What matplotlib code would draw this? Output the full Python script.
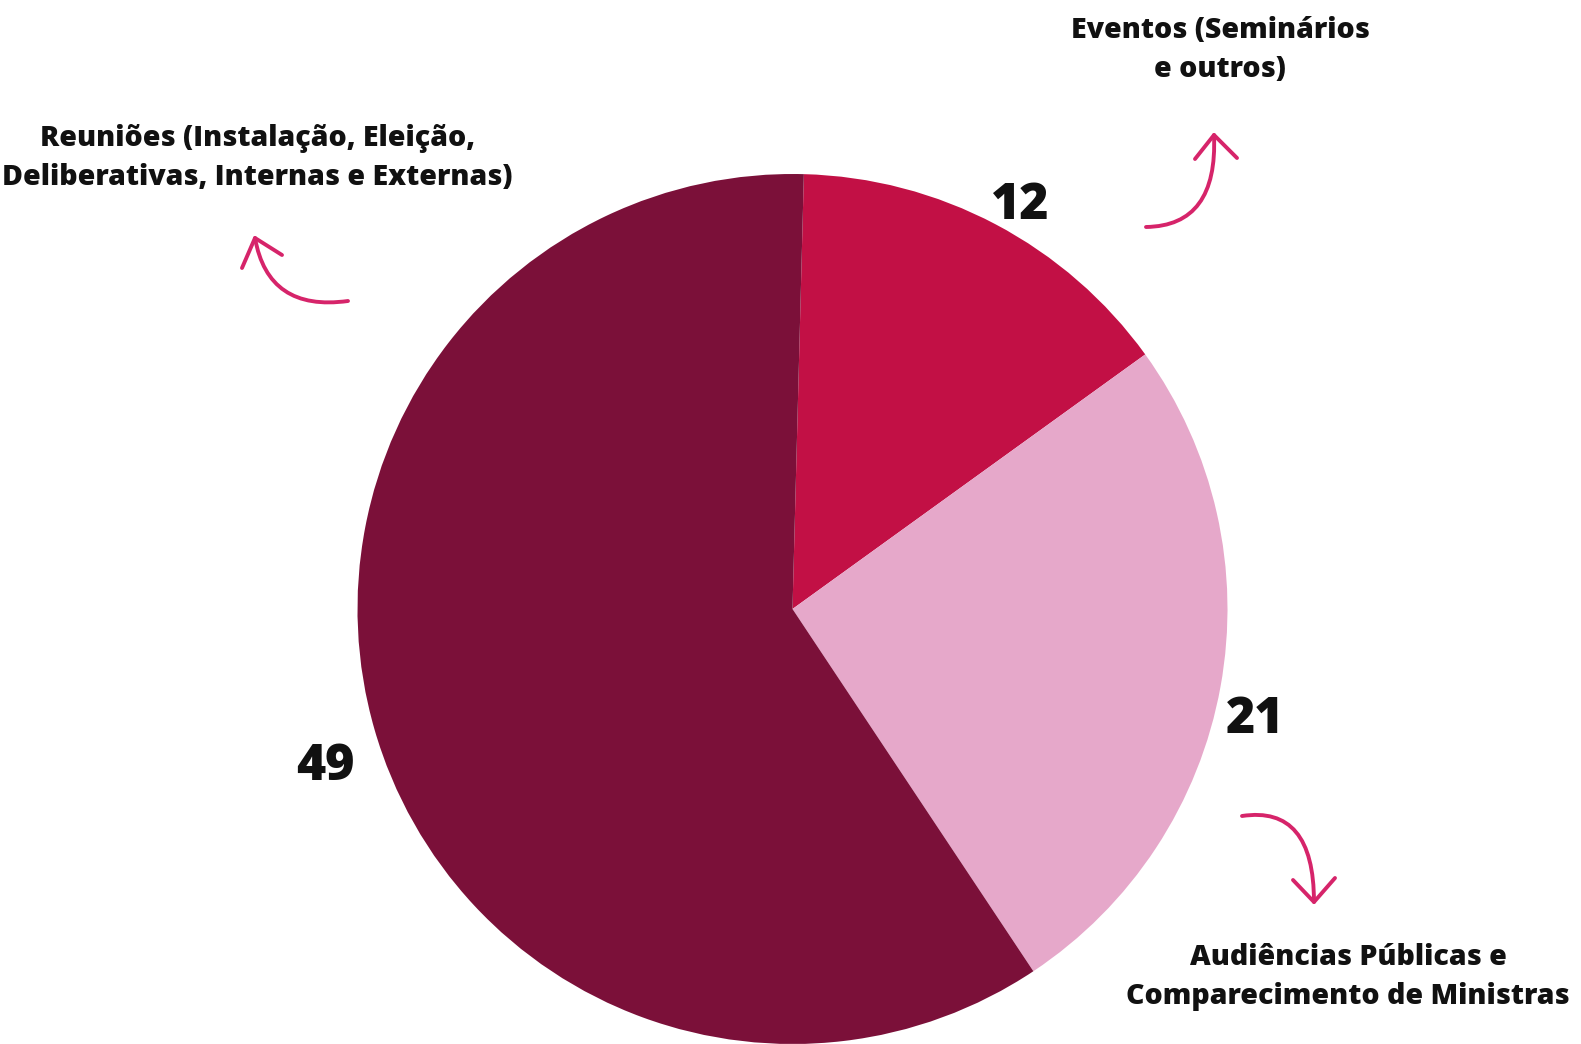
import matplotlib
matplotlib.use("Agg")
import matplotlib.pyplot as plt
from matplotlib.path import Path
from matplotlib.patches import PathPatch

# Data
categories = [
    "Eventos (Seminários\ne outros)",
    "Audiências Públicas e\nComparecimento de Ministras",
    "Reuniões (Instalação, Eleição,\nDeliberativas, Internas e Externas)",
]
values = [12, 21, 49]
colors = ["#C21045", "#E6A8CA", "#7B1039"]

W, H = 1581, 1044
plt.rcParams["font.family"] = ["Open Sans", "DejaVu Sans"]

fig = plt.figure(figsize=(W / 100, H / 100), dpi=100)
ax = fig.add_axes([0, 0, 1, 1])

def fy(y):
    # image y (top-down) -> data y (bottom-up)
    return H - y

# Pie
ax.pie(values, colors=colors, startangle=88.5, counterclock=False,
       center=(792.5, fy(609)), radius=435,
       wedgeprops=dict(linewidth=0))

ax.set_xlim(0, W)
ax.set_ylim(0, H)
ax.set_aspect("equal")
ax.set_axis_off()

# Value labels
value_pos = [(1020, 206), (1255, 720), (325, 767)]
for v, (x, y) in zip(values, value_pos):
    ax.text(x, fy(y), str(v), ha="center", va="center",
            fontsize=36, fontweight="heavy", color="#111111")

# Category labels
label_pos = [(1220, 50), (1348, 977), (257, 158)]
for lab, (x, y) in zip(categories, label_pos):
    ax.text(x, fy(y), lab, ha="center", va="center", fontsize=20.5,
            fontweight="heavy", color="#111111", linespacing=1.42)

# Hand-drawn style arrows
arrow_color = "#D6246A"
arrows = [
    # tail, control, tip, wing1, wing2
    ((1146, 227), (1218, 226), (1214, 135), (1195, 159), (1237, 158)),
    ((348, 301), (268, 312), (255, 238), (242, 268), (282, 255)),
    ((1242, 816), (1314, 805), (1314, 902), (1293, 880), (1335, 878)),
]
for tail, ctrl, tip, w1, w2 in arrows:
    pts = [(tail[0], fy(tail[1])), (ctrl[0], fy(ctrl[1])), (tip[0], fy(tip[1]))]
    path = Path(pts, [Path.MOVETO, Path.CURVE3, Path.CURVE3])
    ax.add_patch(PathPatch(path, facecolor="none", edgecolor=arrow_color,
                           linewidth=2.8, capstyle="round"))
    ax.plot([w1[0], tip[0], w2[0]], [fy(w1[1]), fy(tip[1]), fy(w2[1])],
            color=arrow_color, linewidth=2.8, solid_capstyle="round",
            solid_joinstyle="round")

fig.savefig("out.png", dpi=100, facecolor="white")
